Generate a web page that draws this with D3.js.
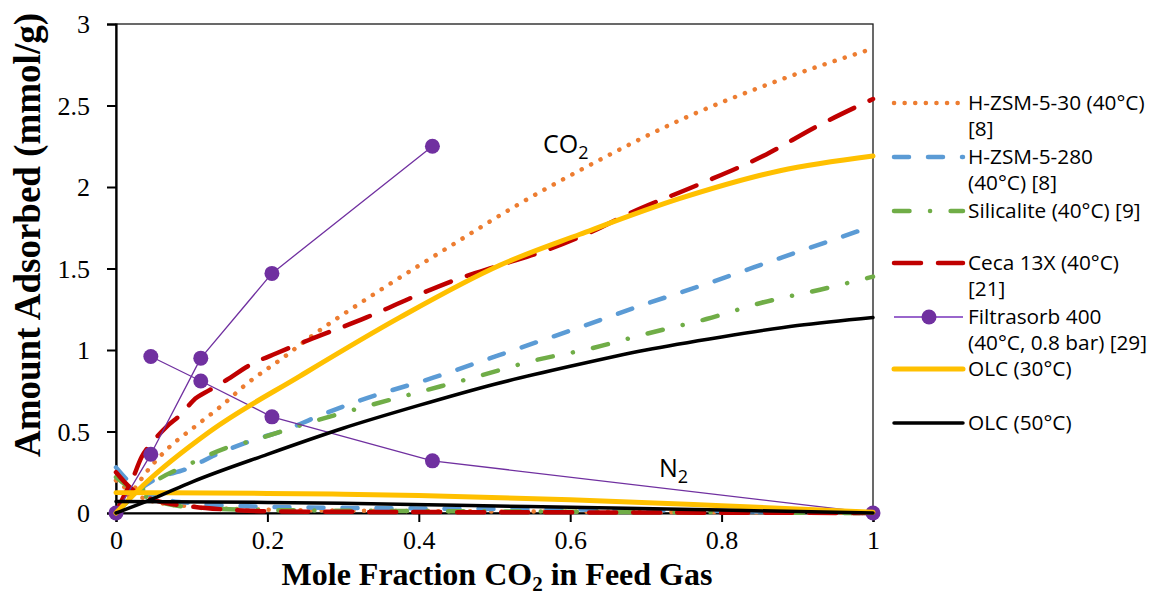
<!DOCTYPE html>
<html>
<head>
<meta charset="utf-8">
<script src="https://cdn.jsdelivr.net/npm/d3@7"></script>
<style>
  body { margin: 0; background: #fff; }
  svg { display: block; }
</style>
</head>
<body>
<svg id="chart" width="1154" height="596"></svg>
<script>
// ---- axis ticks ----
const xTicks = [0, 0.2, 0.4, 0.6, 0.8, 1];
const yTicks = [0, 0.5, 1, 1.5, 2, 2.5, 3];

// ---- adsorption data: [mole fraction CO2, mmol/g] ----
const hzsm30CO2 = [[0,0],[0.02,0.12],[0.04,0.25],[0.065,0.38],[0.107,0.54],[0.14,0.66],[0.172,0.79],[0.22,0.95],[0.254,1.07],[0.35,1.37],[0.446,1.65],[0.534,1.9],[0.62,2.12],[0.745,2.41],[0.873,2.65],[1,2.85]];
const hzsm30N2  = [[0,0.2],[0.02,0.13],[0.05,0.07],[0.1,0.04],[0.2,0.02],[0.4,0.012],[0.6,0.008],[0.8,0.004],[1,0]];

const hzsm280CO2 = [[0,0],[0.02,0.1],[0.049,0.2],[0.093,0.27],[0.133,0.36],[0.177,0.44],[0.23,0.52],[0.26,0.58],[0.322,0.69],[0.419,0.83],[0.507,0.97],[0.613,1.14],[0.692,1.27],[0.789,1.42],[0.881,1.57],[1,1.76]];
const hzsm280N2  = [[0,0.28],[0.02,0.18],[0.05,0.1],[0.1,0.06],[0.2,0.038],[0.4,0.028],[0.6,0.022],[0.8,0.012],[1,0]];

const silicaliteCO2 = [[0,0],[0.02,0.09],[0.05,0.19],[0.104,0.315],[0.146,0.4],[0.177,0.44],[0.252,0.55],[0.327,0.65],[0.402,0.744],[0.476,0.836],[0.551,0.934],[0.628,1.01],[0.701,1.1],[0.78,1.19],[0.853,1.29],[0.93,1.37],[1,1.45]];
const silicaliteN2  = [[0,0.22],[0.02,0.15],[0.05,0.08],[0.1,0.035],[0.2,0.018],[0.4,0.012],[0.6,0.008],[0.8,0.004],[1,0]];

const ceca13xCO2 = [[0,0],[0.01,0.1],[0.021,0.2],[0.034,0.345],[0.049,0.44],[0.067,0.53],[0.087,0.61],[0.102,0.69],[0.124,0.755],[0.146,0.816],[0.177,0.908],[0.212,0.98],[0.254,1.06],[0.331,1.2],[0.4,1.34],[0.454,1.44],[0.507,1.52],[0.573,1.62],[0.635,1.74],[0.679,1.84],[0.767,2.01],[0.859,2.2],[0.925,2.37],[1,2.54]];
const ceca13xN2  = [[0,0.25],[0.02,0.15],[0.05,0.08],[0.1,0.04],[0.15,0.02],[0.2,0.01],[0.4,0.006],[0.6,0.004],[0.8,0.002],[1,0]];

const filtrasorbCO2 = [[0,0],[0.046,0.36],[0.112,0.95],[0.206,1.47],[0.418,2.25]];
const filtrasorbN2  = [[0.046,0.96],[0.112,0.81],[0.206,0.59],[0.418,0.32],[1,0]];

const olc30CO2 = [[0,0],[0.036,0.17],[0.124,0.5],[0.243,0.84],[0.375,1.2],[0.507,1.52],[0.613,1.71],[0.745,1.93],[0.877,2.1],[1,2.19]];
const olc30N2  = [[0,0.125],[0.2,0.12],[0.3,0.115],[0.4,0.108],[0.6,0.082],[0.8,0.045],[1,0.005]];

const olc50CO2 = [[0,0],[0.05,0.09],[0.1,0.19],[0.2,0.36],[0.3,0.52],[0.4,0.66],[0.5,0.79],[0.6,0.9],[0.7,1.0],[0.8,1.08],[0.9,1.15],[1,1.2]];
const olc50N2  = [[0,0.07],[0.2,0.065],[0.3,0.06],[0.45,0.048],[0.6,0.035],[0.8,0.018],[1,0]];

// ---- series styling ----
const series = [
  { name: ["H-ZSM-5-30 (40°C)", "[8]"], color: "#ED7D31", width: 4.5, dash: "0.1,10.5", cap: "round", data: [hzsm30CO2, hzsm30N2] },
  { name: ["H-ZSM-5-280", "(40°C) [8]"], color: "#5B9BD5", width: 4.5, dash: "15,19", cap: "round", data: [hzsm280CO2, hzsm280N2] },
  { name: ["Silicalite (40°C) [9]"], color: "#70AD47", width: 4.5, dash: "15.5,20.5,0.1,20.5", cap: "round", data: [silicaliteCO2, silicaliteN2] },
  { name: ["Ceca 13X (40°C)", "[21]"], color: "#C00000", width: 4.5, dash: "27,17", cap: "round", data: [ceca13xCO2, ceca13xN2] },
  { name: ["Filtrasorb 400", "(40°C, 0.8 bar) [29]"], color: "#7030A0", width: 1.3, dash: null, cap: "butt", marker: true, data: [filtrasorbCO2, filtrasorbN2] },
  { name: ["OLC (30°C)"], color: "#FFC000", width: 5, dash: null, cap: "round", data: [olc30CO2, olc30N2] },
  { name: ["OLC (50°C)"], color: "#000000", width: 3.5, dash: null, cap: "round", data: [olc50CO2, olc50N2] }
];
const legendY = [103, 157, 211, 263, 317, 369, 423];

// ---- layout ----
const svg = d3.select("#chart");
const plot = { left: 116, right: 873, top: 24, bottom: 513 };

const x = d3.scaleLinear().domain([0, 1]).range([plot.left, plot.right]);
const y = d3.scaleLinear().domain([0, 3]).range([plot.bottom, plot.top]);

// plot frame
svg.append("rect")
  .attr("x", plot.left).attr("y", plot.top)
  .attr("width", plot.right - plot.left).attr("height", plot.bottom - plot.top)
  .attr("fill", "none").attr("stroke", "#1a1a1a").attr("stroke-width", 1.3);

// axes
const serif = "'Liberation Serif', 'Times New Roman', serif";
const gx = svg.append("g")
  .attr("transform", `translate(0,${plot.bottom})`)
  .call(d3.axisBottom(x).tickValues(xTicks).tickSize(9).tickPadding(9).tickFormat(d3.format("")));
const gy = svg.append("g")
  .attr("transform", `translate(${plot.left},0)`)
  .call(d3.axisLeft(y).tickValues(yTicks).tickSize(9).tickPadding(17).tickFormat(d3.format("")));
[gx, gy].forEach(g => {
  g.select(".domain").attr("stroke", "#000").attr("stroke-width", 2.2);
  g.selectAll(".tick line").attr("stroke", "#000").attr("stroke-width", 2);
  g.selectAll(".tick text").attr("fill", "#000")
    .style("font-family", serif).style("font-size", "26px");
});
gy.selectAll(".tick text").attr("dy", "0.34em");

// curves
const smooth = d3.line().x(d => x(d[0])).y(d => y(d[1])).curve(d3.curveMonotoneX);
const straight = d3.line().x(d => x(d[0])).y(d => y(d[1]));

const marks = svg.append("g");
series.forEach(s => {
  s.data.forEach(arr => {
    marks.append("path")
      .attr("d", s.marker ? straight(arr) : smooth(arr))
      .attr("fill", "none")
      .attr("stroke", s.color)
      .attr("stroke-width", s.width)
      .attr("stroke-linecap", s.cap)
      .attr("stroke-linejoin", "round")
      .attr("stroke-dasharray", s.dash);
    if (s.marker) {
      marks.selectAll(null).data(arr).enter().append("circle")
        .attr("cx", d => x(d[0])).attr("cy", d => y(d[1]))
        .attr("r", 7.5).attr("fill", s.color);
    }
  });
});

// series annotations
const sans = "'Open Sans', 'Noto Sans', sans-serif";
function gasLabel(txt, sub, px, py) {
  const t = svg.append("text").attr("x", px).attr("y", py)
    .style("font-family", sans).style("font-size", "25px").attr("fill", "#000");
  t.append("tspan").text(txt);
  t.append("tspan").attr("dy", 6).style("font-size", "18px").text(sub);
}
gasLabel("CO", "2", 543, 153);
gasLabel("N", "2", 659, 477);

// axis titles
svg.append("text")
  .attr("x", 497).attr("y", 585)
  .attr("text-anchor", "middle")
  .style("font-family", serif).style("font-size", "32px").style("font-weight", "bold")
  .call(t => {
    t.append("tspan").text("Mole Fraction CO");
    t.append("tspan").attr("dy", 6).style("font-size", "21px").text("2");
    t.append("tspan").attr("dy", -6).text(" in Feed Gas");
  });
svg.append("text")
  .attr("transform", "translate(40,235) rotate(-90)")
  .attr("text-anchor", "middle")
  .style("font-family", serif).style("font-size", "37px").style("font-weight", "bold")
  .text("Amount Adsorbed (mmol/g)");

// legend
const legend = svg.append("g");
series.forEach((s, i) => {
  const ly = legendY[i];
  legend.append("line")
    .attr("x1", 894).attr("x2", 963).attr("y1", ly).attr("y2", ly)
    .attr("stroke", s.marker ? "#9966CC" : s.color)
    .attr("stroke-width", s.marker ? 2 : s.width)
    .attr("stroke-linecap", s.cap)
    .attr("stroke-dasharray", s.dash);
  if (s.marker) {
    legend.append("circle").attr("cx", 929).attr("cy", ly).attr("r", 7.5).attr("fill", s.color);
  }
  s.name.forEach((line, j) => {
    legend.append("text")
      .attr("x", 968).attr("y", ly + 7 + j * 26)
      .style("font-family", sans).style("font-size", "20.8px").attr("fill", "#000")
      .text(line);
  });
});
</script>
</body>
</html>
